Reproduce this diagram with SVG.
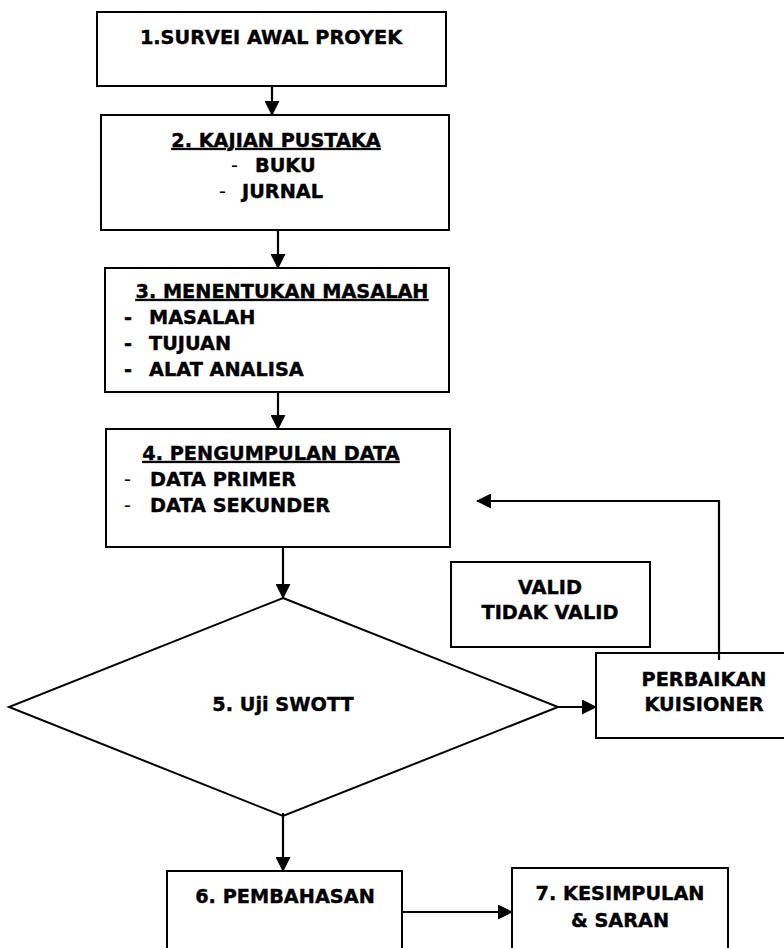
<svg xmlns="http://www.w3.org/2000/svg" width="784" height="948" viewBox="0 0 784 948">
<style>
.box{fill:#fff;stroke:#000;stroke-width:2}
.t{font-family:"DejaVu Sans","Verdana",sans-serif;font-weight:bold;font-size:19.3px;fill:#000;stroke:#000;stroke-width:0.4}
.c{text-anchor:middle}
.u{text-decoration:underline}
.d{font-weight:normal;stroke-width:0}
.ln{fill:none;stroke:#000;stroke-width:2.2}
</style>
<defs>
<marker id="ah" markerWidth="15" markerHeight="15" refX="14" refY="7.5" orient="auto" markerUnits="userSpaceOnUse">
<path d="M0,0 L15,7.5 L0,15 Z" fill="#000"/>
</marker>
</defs>
<rect width="784" height="948" fill="#fff"/>
<g id="n1">
<rect class="box" x="97" y="12" width="349" height="74"/>
<text class="t c" x="271" y="44">1.SURVEI AWAL PROYEK</text>
</g>
<g id="n2">
<rect class="box" x="101" y="115" width="348" height="115"/>
<text class="t c u" x="276" y="147">2. KAJIAN PUSTAKA</text>
<text class="t d" x="231" y="172">-</text>
<text class="t" x="255" y="172">BUKU</text>
<text class="t d" x="219" y="198">-</text>
<text class="t" x="242" y="198">JURNAL</text>
</g>
<g id="n3">
<rect class="box" x="105" y="268" width="344" height="124"/>
<text class="t c u" x="282" y="298">3. MENENTUKAN MASALAH</text>
<text class="t" x="124" y="324">-</text>
<text class="t" x="149" y="324">MASALAH</text>
<text class="t" x="124" y="350">-</text>
<text class="t" x="149" y="350">TUJUAN</text>
<text class="t" x="124" y="376">-</text>
<text class="t" x="149" y="376">ALAT ANALISA</text>
</g>
<g id="n4">
<rect class="box" x="106" y="429" width="344" height="118"/>
<text class="t c u" x="271" y="460">4. PENGUMPULAN DATA</text>
<text class="t d" x="124" y="486">-</text>
<text class="t" x="150" y="486">DATA PRIMER</text>
<text class="t d" x="124" y="512">-</text>
<text class="t" x="150" y="512">DATA SEKUNDER</text>
</g>
<g id="n5">
<polygon class="box" points="283,598 558,707 283,816 9,707"/>
<text class="t c" x="283" y="711">5. Uji SWOTT</text>
</g>
<g id="nv">
<rect class="box" x="451" y="562" width="199" height="85"/>
<text class="t c" x="550" y="594">VALID</text>
<text class="t c" x="550" y="619">TIDAK VALID</text>
</g>
<g id="np">
<rect class="box" x="596" y="653" width="200" height="85"/>
<text class="t c" x="704" y="686">PERBAIKAN</text>
<text class="t c" x="704" y="711">KUISIONER</text>
</g>
<g id="n6">
<rect class="box" x="167" y="871" width="235" height="90"/>
<text class="t c" x="285" y="903">6. PEMBAHASAN</text>
</g>
<g id="n7">
<rect class="box" x="512" y="868" width="216" height="93"/>
<text class="t c" x="620" y="900">7. KESIMPULAN</text>
<text class="t c" x="620" y="927">&amp; SARAN</text>
</g>
<g id="connectors">
<line class="ln" x1="272" y1="86" x2="272" y2="115" marker-end="url(#ah)"/>
<line class="ln" x1="278" y1="230" x2="278" y2="268" marker-end="url(#ah)"/>
<line class="ln" x1="278" y1="392" x2="278" y2="429" marker-end="url(#ah)"/>
<line class="ln" x1="283" y1="547" x2="283" y2="598" marker-end="url(#ah)"/>
<line class="ln" x1="558" y1="707" x2="596" y2="707" marker-end="url(#ah)"/>
<polyline class="ln" points="719,660 719,501 477,501" marker-end="url(#ah)"/>
<line class="ln" x1="283" y1="813" x2="283" y2="871" marker-end="url(#ah)"/>
<line class="ln" x1="402" y1="912" x2="512" y2="912" marker-end="url(#ah)"/>
</g>
</svg>
